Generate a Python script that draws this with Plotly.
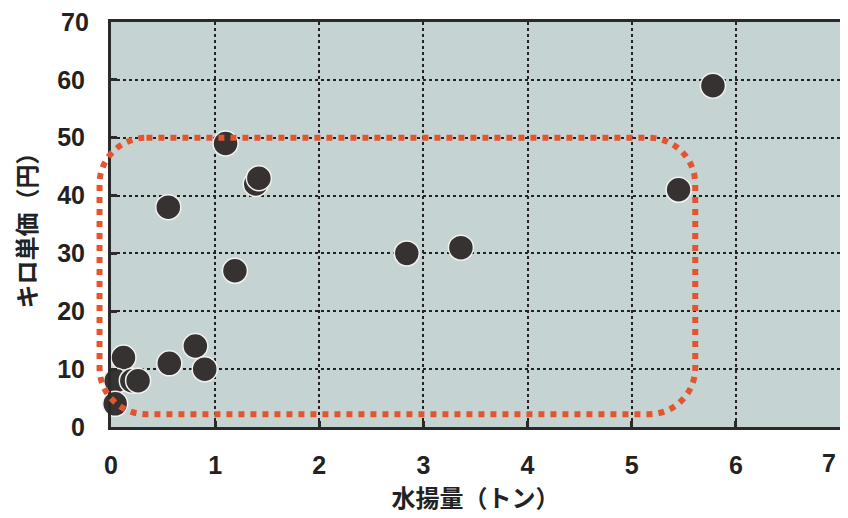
import plotly.graph_objects as go

# data
catch_t = [5.78, 5.45, 1.10, 1.39, 1.42, 0.55, 1.19, 2.84, 3.36, 0.56, 0.81, 0.90, 0.12, 0.05, 0.20, 0.26, 0.04]
price_yen = [59, 41, 49, 42, 43, 38, 27, 30, 31, 11, 14, 10, 12, 8, 8, 8, 4]
x_ticks = [0, 1, 2, 3, 4, 5, 6, 7]
y_ticks = [0, 10, 20, 30, 40, 50, 60, 70]
x_range = [0, 7]
y_range = [0, 70]
# highlighted region (data units)
box_x = [-0.11, 5.61]
box_y = [2.2, 50]
box_r = [0.45, 8.0]

fig = go.Figure()
fig.add_trace(go.Scatter(
    x=catch_t, y=price_yen, mode="markers",
    marker=dict(size=25, color="#363232", line=dict(color="#f2f2f2", width=1.5)),
    showlegend=False, cliponaxis=False,
))

def px(v):
    return (v - x_range[0]) / (x_range[1] - x_range[0])
def py(v):
    return (v - y_range[0]) / (y_range[1] - y_range[0])

x0, x1 = px(box_x[0]), px(box_x[1])
y0, y1 = py(box_y[0]), py(box_y[1])
rx = box_r[0] / (x_range[1] - x_range[0])
ry = box_r[1] / (y_range[1] - y_range[0])
k = 0.5523
path = (
    f"M {x0+rx} {y1} L {x1-rx} {y1} "
    f"C {x1-rx+k*rx} {y1} {x1} {y1-ry+k*ry} {x1} {y1-ry} "
    f"L {x1} {y0+ry} "
    f"C {x1} {y0+ry-k*ry} {x1-rx+k*rx} {y0} {x1-rx} {y0} "
    f"L {x0+rx} {y0} "
    f"C {x0+rx-k*rx} {y0} {x0} {y0+ry-k*ry} {x0} {y0+ry} "
    f"L {x0} {y1-ry} "
    f"C {x0} {y1-ry+k*ry} {x0+rx-k*rx} {y1} {x0+rx} {y1} Z"
)
fig.add_shape(type="path", path=path, xref="paper", yref="paper",
              line=dict(color="#e4552f", width=6, dash="dot"), layer="above")

num_font = dict(family="Liberation Sans Narrow, Liberation Sans, Arial", size=25, color="#222")
title_font = dict(family="Noto Sans CJK JP", size=24, color="#222")

# edge labels drawn as annotations so they are not dropped at the figure edge
x_text = [f"<b>{v}</b>" for v in x_ticks[:-1]] + [""]
y_text = [f"<b>{v}</b>" for v in y_ticks[:-1]] + [""]
fig.add_annotation(x=1, y=0, xref="paper", yref="paper", xanchor="right", yanchor="top",
                   yshift=-20, xshift=-2, text=f"<b>{x_ticks[-1]}</b>", showarrow=False,
                   font=num_font)
fig.add_annotation(x=0, y=y_ticks[-1], xref="paper", yref="y", xanchor="right", yanchor="middle",
                   xshift=-20, yshift=0, text=f"<b>{y_ticks[-1]}</b>", showarrow=False,
                   font=num_font)

fig.update_layout(
    width=840, height=510,
    margin=dict(l=103, r=8, t=14, b=91),
    paper_bgcolor="white",
    plot_bgcolor="#c5d4d2",
    xaxis=dict(
        range=x_range, tickvals=x_ticks, ticktext=x_text, automargin=False,
        showgrid=True, gridcolor="#222", griddash="dot", gridwidth=1.5,
        showline=True, linecolor="#2a2a2a", linewidth=3, mirror=True,
        ticks="inside", ticklen=6, tickwidth=3, tickcolor="#2a2a2a",
        tickfont=num_font, ticklabelstandoff=14, zeroline=False,
        title=dict(text="<b>水揚量（トン）</b>", font=title_font, standoff=6),
    ),
    yaxis=dict(
        range=y_range, tickvals=y_ticks, ticktext=y_text,
        automargin=False,
        showgrid=True, gridcolor="#222", griddash="dot", gridwidth=1.5,
        showline=True, linecolor="#2a2a2a", linewidth=3, mirror=True,
        ticks="inside", ticklen=6, tickwidth=3, tickcolor="#2a2a2a",
        tickfont=num_font, ticklabelstandoff=18, zeroline=False,
        title=dict(text="<b>キロ単価（円）</b>", font=title_font, standoff=14),
    ),
)

fig.write_html("out.html")
